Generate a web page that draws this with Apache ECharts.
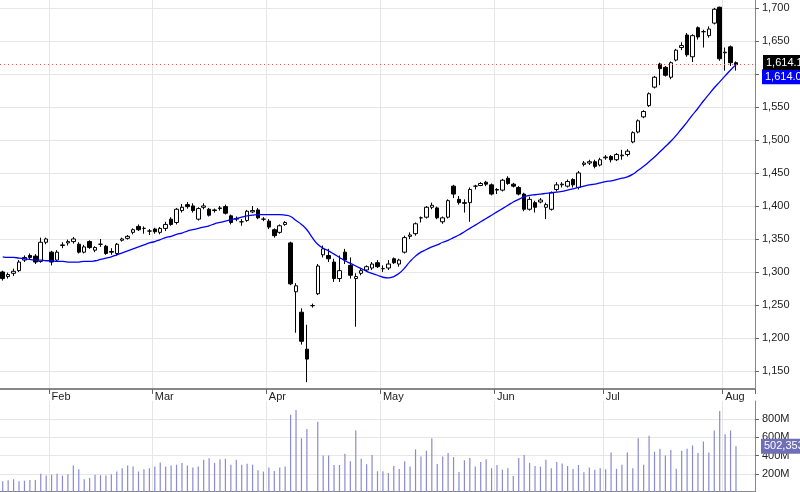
<!DOCTYPE html>
<html><head><meta charset="utf-8">
<script src="https://cdn.jsdelivr.net/npm/echarts@6/dist/echarts.min.js"></script>
<style>html,body{margin:0;padding:0;background:#fff}#c{width:800px;height:492px}</style>
</head><body><div id="c"></div>
<script>
// [open, close, low, high]
const ohlc = [
[1300,1290,1287,1302],[1293,1296,1290,1299],[1298,1301,1294,1305],[1302,1315,1300,1318],[1318,1322,1315,1325],
[1325,1322,1319,1328],[1324,1315,1312,1327],[1316,1345,1314,1352],[1345,1350,1342,1352],[1330,1315,1310,1332],
[1318,1330,1315,1333],[1340,1341,1336,1345],[1344,1346,1340,1349],[1346,1350,1343,1353],[1342,1330,1328,1345],
[1330,1338,1328,1341],[1346,1337,1335,1348],[1333,1337,1330,1339],[1342,1342,1338,1350],[1339,1328,1326,1341],
[1331,1330,1326,1336],[1328,1342,1325,1344],[1348,1350,1346,1352],[1351,1354,1349,1356],[1360,1364,1357,1366],
[1369,1364,1362,1372],[1366,1366,1358,1369],[1362,1362,1356,1365],[1365,1361,1358,1367],[1360,1366,1357,1368],
[1366,1372,1362,1376],[1380,1372,1370,1383],[1375,1395,1372,1397],[1393,1398,1390,1403],[1402,1399,1396,1406],
[1400,1393,1390,1404],[1380,1396,1378,1398],[1398,1400,1395,1404],[1395,1386,1384,1397],[1393,1394,1390,1396],
[1396,1397,1393,1400],[1399,1389,1387,1402],[1385,1375,1372,1387],[1380,1381,1377,1384],[1376,1376,1370,1380],
[1378,1392,1376,1394],[1391,1393,1389,1400],[1394,1382,1380,1397],[1380,1380,1377,1383],[1377,1368,1365,1380],
[1364,1355,1352,1366],[1360,1370,1358,1372],[1372,1375,1370,1377],[1344,1282,1280,1346],[1270,1279,1208,1283],
[1239,1195,1190,1245],[1183,1168,1133,1220],[1249,1249,1246,1252],[1267,1309,1265,1312],[1326,1335,1322,1340],
[1325,1320,1315,1335],[1315,1290,1285,1320],[1290,1302,1285,1325],[1330,1318,1312,1335],[1310,1295,1290,1322],
[1290,1293,1217,1298],[1298,1302,1295,1305],[1303,1308,1300,1310],[1306,1312,1303,1315],[1314,1308,1306,1318],
[1305,1305,1300,1310],[1306,1312,1303,1318],[1320,1314,1312,1322],[1312,1318,1308,1320],[1330,1352,1328,1355],
[1354,1356,1350,1360],[1358,1373,1355,1375],[1382,1382,1375,1384],[1383,1398,1381,1400],[1398,1401,1395,1405],
[1397,1382,1380,1399],[1376,1382,1373,1384],[1383,1408,1381,1410],[1430,1418,1412,1432],[1410,1405,1402,1415],
[1405,1404,1390,1410],[1405,1425,1376,1428],[1430,1430,1425,1432],[1431,1434,1430,1436],[1436,1433,1430,1438],
[1432,1418,1416,1434],[1424,1425,1418,1427],[1424,1439,1422,1441],[1442,1434,1432,1445],[1433,1430,1428,1435],
[1428,1418,1416,1430],[1418,1395,1392,1420],[1395,1410,1393,1414],[1405,1398,1390,1408],[1406,1409,1404,1412],
[1398,1402,1380,1405],[1395,1420,1393,1422],[1425,1432,1422,1436],[1432,1433,1428,1436],[1430,1437,1428,1440],
[1440,1432,1428,1442],[1428,1450,1425,1453],[1463,1465,1460,1468],[1465,1467,1462,1470],[1467,1460,1457,1470],
[1462,1470,1460,1473],[1473,1474,1470,1477],[1475,1470,1466,1477],[1470,1478,1468,1480],[1476,1477,1470,1485],
[1478,1483,1475,1486],[1497,1511,1495,1513],[1512,1529,1510,1531],[1535,1543,1533,1545],[1552,1570,1550,1572],
[1580,1595,1578,1597],[1615,1608,1583,1617],[1610,1598,1596,1612],[1595,1617,1592,1619],[1621,1636,1619,1638],
[1640,1643,1636,1648],[1659,1629,1626,1662],[1626,1658,1618,1660],[1670,1656,1652,1672],[1664,1664,1640,1667],
[1658,1668,1655,1672],[1677,1698,1675,1700],[1701,1623,1620,1702],[1632,1633,1605,1640],[1641,1617,1612,1643],
[1617,1614.1,1605,1619]
];
const maValues = [
1323,1322,1322,1321,1320,1319,1318,1318,1317,1317,1316,1316,1315,1315,1315,1316,1316,1317,
1319,1321,1323,1326,1329,1332,1335,1338,1341,1344,1346,1349,1352,1354,1357,1359,1362,1364,
1366,1368,1370,1373,1375,1377,1379,1381,1383,1385,1386,1387,1387,1387,1387,1387,1386,1384,
1378,1372,1364,1352,1342,1336,1332,1327,1322,1317,1313,1309,1305,1301,1298,1295,1292,1291,
1293,1298,1306,1316,1324,1330,1334,1338,1341,1345,1348,1352,1356,1361,1366,1371,1376,1381,
1386,1391,1396,1401,1406,1410,1414,1416,1417,1418,1419,1420,1421,1422,1424,1426,1428,1430,
1432,1433,1435,1437,1438,1440,1442,1444,1448,1454,1460,1467,1474,1482,1490,1498,1507,1517,
1527,1538,1548,1559,1569,1579,1588,1597,1606,1614.0
];
const volumeM = [
117,128,140,117,124,131,131,200,180,190,200,180,195,290,250,140,155,190,185,180,
195,225,260,290,280,225,250,260,280,325,280,290,300,320,290,270,280,355,370,320,
360,365,300,355,300,310,300,240,225,270,230,270,280,849,900,590,693,10,773,400,
400,297,297,420,338,676,366,304,407,228,228,210,286,252,338,279,469,390,452,590,
307,390,428,383,221,348,373,279,331,359,262,297,245,262,176,373,407,321,286,279,
355,262,331,314,286,252,297,217,269,245,262,250,435,255,300,435,260,590,300,618,
442,476,400,462,255,452,476,511,428,555,435,676,890,635,676,502.353
];
const priceTicks = [1150,1200,1250,1300,1350,1400,1450,1500,1550,1600,1650,1700];
const volTicks = [200,400,600,800];
const holidays = ['2025-02-17','2025-04-18','2025-05-26','2025-06-19','2025-07-04'];

const dates = [];
(function(){
  let d = new Date(Date.UTC(2025,0,21));
  while (dates.length < ohlc.length + 3) {
    const wd = d.getUTCDay();
    const s = d.toISOString().slice(0,10);
    if (wd !== 0 && wd !== 6 && holidays.indexOf(s) < 0) dates.push(s);
    d = new Date(d.getTime() + 86400000);
  }
})();
const monthNames = ['Jan','Feb','Mar','Apr','May','Jun','Jul','Aug','Sep'];
const firstOfMonth = {};
dates.forEach((s,i)=>{ const m=s.slice(0,7); if(!(m in firstOfMonth)) firstOfMonth[m]=i; });
const isMonthStart = (i)=> i>0 && firstOfMonth[dates[i].slice(0,7)] === i;
const fmt = v => v.toLocaleString('en-US');

const chart = echarts.init(document.getElementById('c'));
chart.setOption({
  animation:false,
  grid:[{left:0,right:45,top:0,height:389},{left:0,right:45,top:401,height:91}],
  xAxis:[
    {type:'category',gridIndex:0,data:dates,boundaryGap:true,
     axisLine:{lineStyle:{color:'#888',width:2}},
     axisTick:{show:true,interval:(i)=>isMonthStart(i),inside:false,length:5,lineStyle:{color:'#666'}},
     axisLabel:{interval:(i)=>isMonthStart(i),formatter:(v)=>monthNames[+v.slice(5,7)-1],
       color:'#222',fontSize:11,fontFamily:'Arial, Liberation Sans',align:'left',margin:2},
     splitLine:{show:true,interval:(i)=>isMonthStart(i),lineStyle:{color:'#e6e6e6'}}},
    {type:'category',gridIndex:1,data:dates,boundaryGap:true,position:'top',
     axisLine:{lineStyle:{color:'#888',width:2}},axisTick:{show:false},axisLabel:{show:false},
     splitLine:{show:true,interval:(i)=>isMonthStart(i),lineStyle:{color:'#e6e6e6'}}}
  ],
  yAxis:[
    {type:'value',gridIndex:0,position:'right',min:1122.7,max:1712,
     axisLine:{show:true,lineStyle:{color:'#888'}},
     axisTick:{show:true,customValues:priceTicks,length:4,lineStyle:{color:'#666'}},
     axisLabel:{customValues:priceTicks,formatter:fmt,color:'#222',fontSize:11,fontFamily:'Arial, Liberation Sans',margin:7},
     splitLine:{show:true,lineStyle:{color:'#e6e6e6'}}},
    {type:'value',gridIndex:1,position:'right',min:0,max:1000,
     axisLine:{show:true,lineStyle:{color:'#888'}},
     axisTick:{show:true,customValues:volTicks,length:4,lineStyle:{color:'#666'}},
     axisLabel:{customValues:volTicks,formatter:v=>v+'M',color:'#222',fontSize:11,fontFamily:'Arial, Liberation Sans',margin:7},
     splitLine:{show:true,lineStyle:{color:'#e6e6e6'}}}
  ],
  series:[
    {type:'candlestick',xAxisIndex:0,yAxisIndex:0,data:ohlc,barWidth:4,
     itemStyle:{color:'#fff',color0:'#000',borderColor:'#000',borderColor0:'#000',borderWidth:1},
     markLine:{symbol:'none',silent:true,
       data:[{yAxis:1614.1}],
       lineStyle:{color:'#ff5050',type:[1,3],width:1},
       label:{position:'end',formatter:'1,614.1',color:'#fff',backgroundColor:'#000',
         padding:[2,3],fontSize:11,fontFamily:'Arial, Liberation Sans',distance:8,offset:[0,-2]}}},
    {type:'line',xAxisIndex:0,yAxisIndex:0,data:maValues,showSymbol:false,smooth:true,
     lineStyle:{color:'#0000ff',width:1.3},
     endLabel:{show:true,formatter:'1,614.0',color:'#fff',backgroundColor:'#0000ff',
       padding:[2,3],fontSize:11,fontFamily:'Arial, Liberation Sans',distance:26,offset:[0,12]}},
    {type:'bar',xAxisIndex:1,yAxisIndex:1,data:volumeM,barWidth:1.2,
     itemStyle:{color:'#8a8ad0'},
     markLine:{symbol:'none',silent:true,data:[{yAxis:502.353}],
       lineStyle:{color:'rgba(0,0,0,0)',width:1},
       label:{show:true,position:'end',formatter:'502,353',color:'#fff',backgroundColor:'#6f6fb8',
         padding:[2,3],fontSize:11,fontFamily:'Arial, Liberation Sans',distance:6}}}
  ]
});
</script></body></html>
